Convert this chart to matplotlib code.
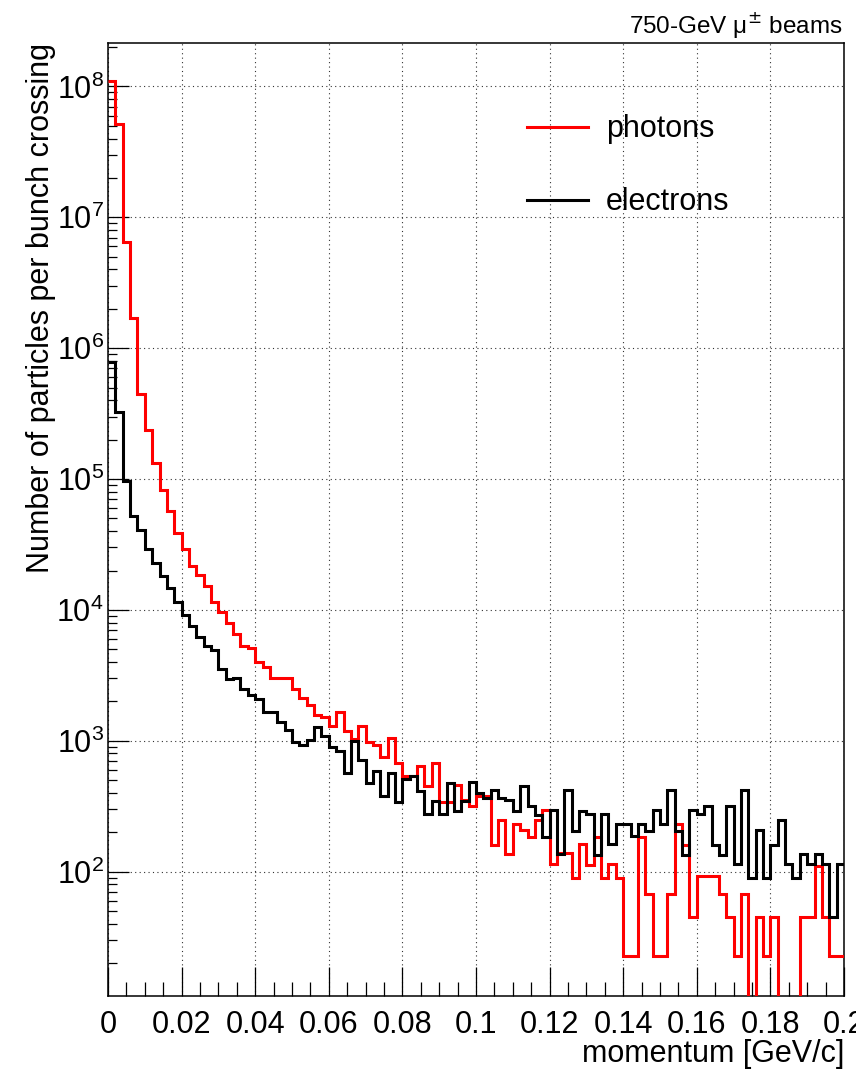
import numpy as np
import matplotlib
matplotlib.use("Agg")
import matplotlib.pyplot as plt
from matplotlib.ticker import MultipleLocator, LogLocator, NullFormatter, FixedLocator
from matplotlib.lines import Line2D

plt.rcParams['font.family'] = ['Liberation Sans', 'DejaVu Sans']

# ---- data -------------------------------------------------------------
x_min, x_max, n_bins = 0.0, 0.2, 100
bin_edges = np.linspace(x_min, x_max, n_bins + 1)

photons = [1.1e8, 5.2e7, 6.5e6, 1.7e6, 4.5e5, 2.35e5, 1.33e5, 8.3e4, 5.7e4, 3.9e4,
           2.9e4, 2.17e4, 1.84e4, 1.52e4, 1.14e4, 9.7e3, 8.0e3, 6.5e3, 5.3e3, 5.15e3,
           4.0e3, 3.65e3, 3.0e3, 3.0e3, 3.0e3, 2.5e3, 2.12e3, 1.86e3, 1.58e3, 1.51e3,
           1.29e3, 1.65e3, 1.19e3, 1.03e3, 1.3e3, 9.8e2, 9.3e2, 7.5e2, 1.05e3, 6.8e2,
           5.4e2, 5.4e2, 6.4e2, 4.5e2, 6.8e2, 3.4e2, 3.4e2, 4.6e2, 3.55e2, 3.15e2,
           3.8e2, 3.75e2, 1.6e2, 2.5e2, 1.37e2, 2.33e2, 2.07e2, 1.85e2, 2.5e2, 2.95e2,
           1.14e2, 1.38e2, 1.38e2, 90, 1.63e2, 1.13e2, 1.85e2, 90, 1.14e2, 90,
           22.7, 22.7, 1.85e2, 68, 22.7, 22.7, 68, 2.3e2, 1.6e2, 45,
           92, 92, 92, 68, 45, 22.7, 68, 0, 45, 22.7,
           45, 0, 0, 0, 45, 45, 1.1e2, 45, 22.7, 22.7]

electrons = [7.9e5, 3.24e5, 9.7e4, 5.25e4, 4.07e4, 2.91e4, 2.3e4, 1.82e4, 1.48e4, 1.15e4,
             9.2e3, 7.5e3, 6.2e3, 5.3e3, 4.9e3, 3.55e3, 2.95e3, 3.0e3, 2.47e3, 2.25e3,
             2.07e3, 1.67e3, 1.67e3, 1.38e3, 1.21e3, 9.7e2, 9.3e2, 1.02e3, 1.27e3, 1.09e3,
             8.9e2, 8.3e2, 5.7e2, 9.9e2, 7.1e2, 4.75e2, 5.9e2, 3.8e2, 5.7e2, 3.4e2,
             5.1e2, 5.4e2, 4.1e2, 2.75e2, 3.47e2, 2.75e2, 4.73e2, 2.9e2, 3.47e2, 4.8e2,
             4.0e2, 3.67e2, 4.17e2, 3.65e2, 3.5e2, 2.9e2, 4.5e2, 3.16e2, 2.72e2, 1.85e2,
             2.94e2, 1.37e2, 4.2e2, 2.03e2, 2.9e2, 2.75e2, 1.35e2, 2.74e2, 1.63e2, 2.3e2,
             2.3e2, 1.86e2, 2.3e2, 2.03e2, 2.94e2, 2.3e2, 4.2e2, 2.04e2, 1.35e2, 2.94e2,
             2.75e2, 3.16e2, 1.61e2, 1.35e2, 3.16e2, 1.15e2, 4.2e2, 90, 2.07e2, 90,
             1.61e2, 2.49e2, 1.15e2, 90, 1.37e2, 1.15e2, 1.37e2, 1.15e2, 45, 1.15e2]

x_ticks = [0, 0.02, 0.04, 0.06, 0.08, 0.1, 0.12, 0.14, 0.16, 0.18, 0.2]
x_tick_labels = ["0", "0.02", "0.04", "0.06", "0.08", "0.1", "0.12", "0.14", "0.16", "0.18", "0.2"]
y_ticks = [1e2, 1e3, 1e4, 1e5, 1e6, 1e7, 1e8]
y_tick_labels = [r"$\mathdefault{10^{%d}}$" % e for e in range(2, 9)]

labels = ["photons", "electrons"]
colors = ["#ff0000", "#000000"]

# ---- figure -----------------------------------------------------------
W, H = 856, 1081
fig = plt.figure(figsize=(W / 100, H / 100), dpi=100)
ax_l, ax_r, ax_t, ax_b = 108, 844, 43, 996
ax = fig.add_axes([ax_l / W, 1 - ax_b / H, (ax_r - ax_l) / W, (ax_b - ax_t) / H])

lw = 2.2
ax.stairs(photons, bin_edges, color=colors[0], lw=lw, baseline=None, zorder=3)
ax.stairs(electrons, bin_edges, color=colors[1], lw=lw, baseline=None, zorder=4)

ax.set_yscale('log')
ax.set_xlim(x_min, x_max)
ax.set_ylim(11.2, 2.15e8)

ax.xaxis.set_major_locator(FixedLocator(x_ticks))
ax.set_xticklabels(x_tick_labels)
ax.xaxis.set_minor_locator(MultipleLocator(0.005))
ax.yaxis.set_major_locator(FixedLocator(y_ticks))
ax.set_yticklabels(y_tick_labels)
ax.yaxis.set_minor_locator(LogLocator(base=10, subs=np.arange(2, 10), numticks=20))
ax.yaxis.set_minor_formatter(NullFormatter())

fs = 22
ax.tick_params(axis='x', which='major', direction='in', length=21, width=0.9,
               labelsize=fs, pad=10, top=False)
ax.tick_params(axis='x', which='minor', direction='in', length=10, width=0.9, top=False)
ax.tick_params(axis='y', which='major', direction='in', length=15, width=0.9,
               labelsize=fs, pad=3, right=False)
ax.tick_params(axis='y', which='minor', direction='in', length=6.5, width=0.9, right=False)

ax.grid(True, which='major', color='0.2', linestyle=(0, (1, 3)), linewidth=0.8)
for s in ax.spines.values():
    s.set_linewidth(1.1)

ax.set_xlabel("momentum [GeV/c]", fontsize=fs, loc='right')
ax.xaxis.set_label_coords(1.0, -0.045)
ax.set_ylabel("Number of particles per bunch crossing", fontsize=fs, loc='top')
ax.yaxis.set_label_coords(-0.07, 1.0)

handles = [Line2D([], [], color=c, lw=lw) for c in colors]
ax.legend(handles, labels, loc='upper left', bbox_to_anchor=(0.569, 0.925),
          frameon=False, fontsize=fs, handlelength=2.0, handletextpad=0.6,
          labelspacing=1.4, borderpad=0, borderaxespad=0)

fig.text(843 / W, 1 - 25 / H, "750-GeV μ$^{\\pm}$ beams", ha='right', va='center', fontsize=17.5)

fig.savefig("out.png", dpi=100)
